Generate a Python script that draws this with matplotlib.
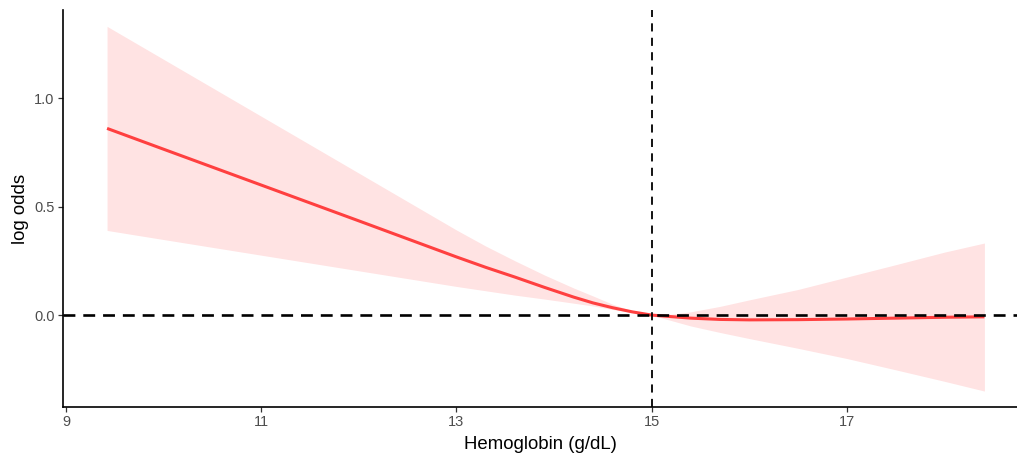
import matplotlib
matplotlib.use("Agg")
import matplotlib.pyplot as plt

plt.rcParams['font.family'] = ['Liberation Sans', 'DejaVu Sans']

# Data
hb = [9.42, 10.0, 11.0, 12.0, 12.5, 13.0, 13.3, 13.6, 13.9, 14.2, 14.4, 14.6, 14.8, 15.0,
      15.2, 15.4, 15.7, 16.0, 16.5, 17.0, 17.5, 18.0, 18.41]
log_odds = [0.86, 0.764, 0.599, 0.434, 0.351, 0.268, 0.22, 0.175, 0.128, 0.083, 0.056, 0.034, 0.015, 0.0,
            -0.007, -0.014, -0.020, -0.022, -0.021, -0.018, -0.014, -0.010, -0.008]
upper = [1.33, 1.178, 0.916, 0.654, 0.523, 0.392, 0.318, 0.25, 0.185, 0.125, 0.088, 0.05, 0.02, 0.0,
         0.004, 0.015, 0.04, 0.07, 0.118, 0.175, 0.232, 0.29, 0.332]
lower = [0.39, 0.348, 0.276, 0.204, 0.168, 0.132, 0.112, 0.092, 0.074, 0.055, 0.042, 0.026, 0.012, 0.0,
         -0.025, -0.05, -0.08, -0.108, -0.153, -0.2, -0.252, -0.305, -0.35]
x_ticks = [9, 11, 13, 15, 17]
y_ticks = [0.0, 0.5, 1.0]
ref_x = 15
ref_y = 0.0

fig = plt.figure(figsize=(10.17, 4.59), dpi=100)
ax = fig.add_axes([0.062, 0.113, 0.938, 0.865])

ax.fill_between(hb, lower, upper, color='#FFE3E3', lw=0, zorder=1)
ax.plot(hb, log_odds, color='#FF4040', lw=2.2, zorder=3, solid_capstyle='butt',
        solid_joinstyle='round')
ax.axhline(ref_y, color='black', lw=1.9, dashes=(4.5, 3.0), zorder=4)
ax.axvline(ref_x, color='black', lw=1.3, dashes=(4.5, 3.5), zorder=4)

ax.set_xlim(8.969, 18.744)
ax.set_ylim(-0.424, 1.405)
ax.set_xticks(x_ticks)
ax.set_xticklabels([str(t) for t in x_ticks])
ax.set_yticks(y_ticks)
ax.set_yticklabels(['%.1f' % t for t in y_ticks])

for s in ['top', 'right']:
    ax.spines[s].set_visible(False)
for s in ['left', 'bottom']:
    ax.spines[s].set_linewidth(1.2)
    ax.spines[s].set_color('black')

ax.tick_params(axis='both', labelsize=10.5, labelcolor='#4D4D4D', color='#333333',
               length=3.5, width=0.9, pad=2.5)
ax.set_xlabel('Hemoglobin (g/dL)', fontsize=13.4, labelpad=4.5)
ax.set_ylabel('log odds', fontsize=13.4, labelpad=4)

fig.savefig('out.png', dpi=100)
